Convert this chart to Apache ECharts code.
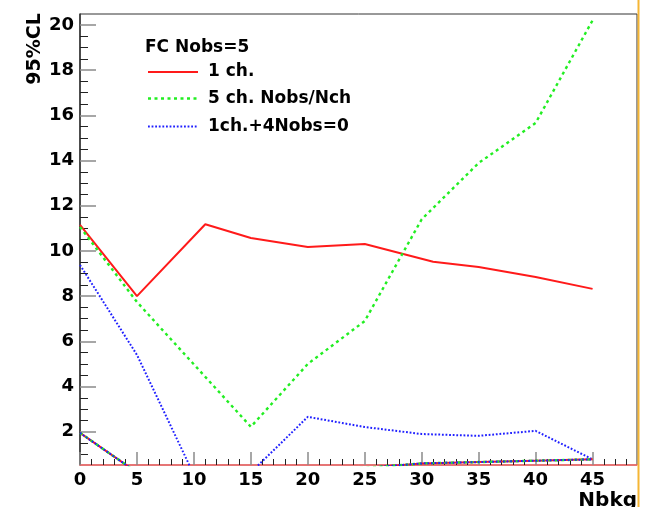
<!DOCTYPE html>
<html>
<head>
<meta charset="utf-8">
<title>95%CL vs Nbkg</title>
<script src="https://cdn.jsdelivr.net/npm/echarts@6/dist/echarts.min.js"></script>
<style>
  html, body { margin: 0; padding: 0; background: #fff; }
  #chart { width: 649px; height: 507px; }
</style>
</head>
<body>
<div id="chart"></div>
<script>
// Upper limits: 1 channel
const nbkgOne = [0, 5, 11, 15, 20, 25, 31, 35, 40, 45];
const clOne   = [11.15, 8.0, 11.18, 10.57, 10.17, 10.31, 9.52, 9.29, 8.85, 8.32];

// Upper limits: 5 channels, Nobs/Nch each
const nbkgFive = [0, 5, 15, 20, 25, 30, 35, 40, 45];
const clFive   = [11.06, 7.74, 2.22, 5.0, 6.9, 11.4, 13.89, 15.66, 20.2];

// Upper limits: 1 channel + 4 channels with Nobs=0
const nbkgMix = [0, 5, 10, 15, 20, 25, 30, 35, 40, 45];
const clMix   = [9.38, 5.4, 0.1, 0.2, 2.66, 2.21, 1.9, 1.82, 2.04, 0.78];

// Lower limits (the three configurations coincide)
const nbkgLow = [0, 5, 25, 30, 35, 40, 45];
const clLow   = [1.95, 0.2, 0.4, 0.6, 0.66, 0.72, 0.78];

// Axis ticks
const xMajor = [0, 5, 10, 15, 20, 25, 30, 35, 40, 45];
const xMinor = [1,2,3,4,6,7,8,9,11,12,13,14,16,17,18,19,21,22,23,24,26,27,28,29,31,32,33,34,36,37,38,39,41,42,43,44,46,47,48];
const yMajor = [2, 4, 6, 8, 10, 12, 14, 16, 18, 20];
const yMinor = [1, 1.5, 2.5, 3, 3.5, 4.5, 5, 5.5, 6.5, 7, 7.5, 8.5, 9, 9.5, 10.5, 11, 11.5,
                12.5, 13, 13.5, 14.5, 15, 15.5, 16.5, 17, 17.5, 18.5, 19, 19.5];

const legendTitle = 'FC Nobs=5';
const seriesNames = ['1 ch.', '5 ch. Nobs/Nch', '1ch.+4Nobs=0'];

const FONT = 'DejaVu Sans';
const RED = '#ff1a1a', GREEN = '#22ee22', BLUE = '#2020ff';

const pairs = (xs, ys) => xs.map((x, i) => [x, ys[i]]);

const styles = [
  { color: RED,   width: 2,   type: 'solid' },
  { color: GREEN, width: 2.4, type: [3, 3.5] },
  { color: BLUE,  width: 2,   type: [1.8, 1.8] }
];

function lineSeries(name, data, st, z) {
  return {
    name: name,
    type: 'line',
    data: data,
    xAxisIndex: 0,
    yAxisIndex: 0,
    showSymbol: false,
    symbol: 'none',
    clip: true,
    z: z,
    lineStyle: { color: st.color, width: st.width, type: st.type },
    itemStyle: { color: st.color },
    emphasis: { disabled: true },
    animation: false
  };
}

const labelStyle = { fontFamily: FONT, fontWeight: 'bold', fontSize: 18, color: '#000' };

const chart = echarts.init(document.getElementById('chart'), null, { renderer: 'canvas' });

const legendRows = [72, 98.5, 126.5];

const graphics = [
  // outer right border stripe
  { type: 'line', silent: true, z: 50,
    shape: { x1: 638.5, y1: 0, x2: 638.5, y2: 507 },
    style: { stroke: '#f5b635', lineWidth: 2 } },
  { type: 'text', z: 60, silent: true,
    x: 35.5, y: 49, rotation: Math.PI / 2,
    style: { text: '95%CL', x: 0, y: 0, textAlign: 'center', textVerticalAlign: 'middle',
             font: 'bold 19px "DejaVu Sans"', fill: '#000' } },
  { type: 'text', z: 60, silent: true,
    style: { text: 'Nbkg', x: 637, y: 500.5, textAlign: 'right', textVerticalAlign: 'middle',
             font: 'bold 20px "DejaVu Sans"', fill: '#000' } },
  { type: 'text', z: 60, silent: true,
    style: { text: legendTitle, x: 145, y: 47.5, textAlign: 'left', textVerticalAlign: 'middle',
             font: 'bold 17px "DejaVu Sans"', fill: '#000' } }
];
seriesNames.forEach((name, i) => {
  const st = styles[i];
  graphics.push({
    type: 'line', silent: true, z: 60,
    shape: { x1: 148, y1: legendRows[i], x2: 198, y2: legendRows[i] },
    style: { stroke: st.color, lineWidth: st.width,
             lineDash: st.type === 'solid' ? null : st.type }
  });
  graphics.push({
    type: 'text', silent: true, z: 60,
    style: { text: name, x: 208, y: legendRows[i], textAlign: 'left', textVerticalAlign: 'middle',
             font: 'bold 17px "DejaVu Sans"', fill: '#000' }
  });
});

const option = {
  animation: false,
  backgroundColor: '#fff',
  grid: {
    left: 80, right: 12, top: 14, bottom: 42,
    show: true, borderColor: '#333', borderWidth: 1, backgroundColor: 'transparent'
  },
  xAxis: [
    {
      type: 'value', min: 0, max: 48.9, position: 'bottom',
      axisLine: { show: true, onZero: false, lineStyle: { color: '#ff6a6a', width: 1.5 } },
      axisTick: { show: true, inside: true, length: 13, customValues: xMajor,
                  lineStyle: { color: '#8a8a8a', width: 1.5 } },
      axisLabel: Object.assign({ show: true, margin: 6, customValues: xMajor }, labelStyle),
      splitLine: { show: false }
    },
    {
      type: 'value', min: 0, max: 48.9, position: 'bottom', offset: 0,
      axisLine: { show: false },
      axisTick: { show: true, inside: true, length: 6, customValues: xMinor,
                  lineStyle: { color: '#222', width: 1 } },
      axisLabel: { show: false },
      splitLine: { show: false }
    }
  ],
  yAxis: [
    {
      type: 'value', min: 0.53, max: 20.48, position: 'left',
      axisLine: { show: true, onZero: false, lineStyle: { color: '#333', width: 1.5 } },
      axisTick: { show: true, inside: true, length: 16, customValues: yMajor,
                  lineStyle: { color: '#8a8a8a', width: 1.5 } },
      axisLabel: Object.assign({ show: true, margin: 6, customValues: yMajor }, labelStyle),
      splitLine: { show: false }
    },
    {
      type: 'value', min: 0.53, max: 20.48, position: 'left', offset: 0,
      axisLine: { show: false },
      axisTick: { show: true, inside: true, length: 8, customValues: yMinor,
                  lineStyle: { color: '#222', width: 1 } },
      axisLabel: { show: false },
      splitLine: { show: false }
    }
  ],
  graphic: graphics,
  series: [
    lineSeries(seriesNames[0], pairs(nbkgOne, clOne), styles[0], 3),
    lineSeries(seriesNames[1], pairs(nbkgFive, clFive), styles[1], 3),
    lineSeries(seriesNames[2], pairs(nbkgMix, clMix), styles[2], 3),
    lineSeries(seriesNames[0] + ' low', pairs(nbkgLow, clLow), styles[0], 4),
    lineSeries(seriesNames[1] + ' low', pairs(nbkgLow, clLow), styles[1], 4),
    lineSeries(seriesNames[2] + ' low', pairs(nbkgLow, clLow), styles[2], 4)
  ]
};

chart.setOption(option);
</script>
</body>
</html>
